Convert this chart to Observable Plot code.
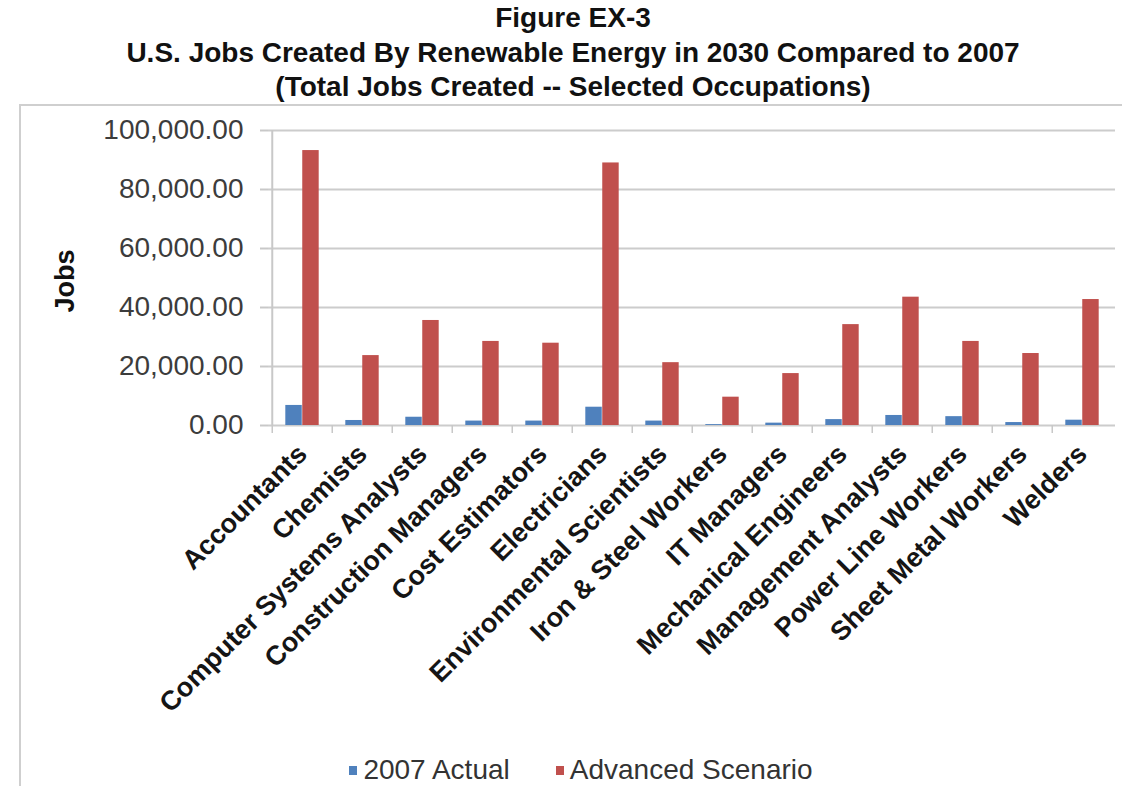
<!DOCTYPE html>
<html>
<head>
<meta charset="utf-8">
<script src="https://cdn.jsdelivr.net/npm/d3@7"></script>
<script src="https://cdn.jsdelivr.net/npm/@observablehq/plot@0.6"></script>
<style>
  html, body { margin: 0; padding: 0; background: #fff; }
  body { width: 1122px; height: 786px; position: relative; overflow: hidden; font-family: "Liberation Sans", Arial, sans-serif; }
  #title { position: absolute; top: 1px; left: 0; width: 1146px; text-align: center; font-weight: bold; font-size: 28px; line-height: 34.5px; color: #111; }
  #frame { position: absolute; left: 19px; top: 104px; right: -4px; bottom: -4px; border-top: 2px solid #cfcfcf; border-left: 2px solid #cfcfcf; }
  #chart { position: absolute; left: 0; top: 104px; }
  #ylabel { position: absolute; left: 65px; top: 281px; transform: translate(-50%, -50%) rotate(-90deg); font-weight: bold; font-size: 27px; color: #111; white-space: nowrap; }
  #legend { position: absolute; left: 0; top: 754px; width: 1122px; display: flex; justify-content: center; gap: 46px; font-size: 28px; color: #333; padding-left: 40px; box-sizing: border-box; }
  #legend span.item { display: flex; align-items: center; }
  #legend span.sw { width: 8px; height: 9px; display: inline-block; margin-right: 6px; }
</style>
</head>
<body>
<div id="title">Figure EX-3<br>U.S. Jobs Created By Renewable Energy in 2030 Compared to 2007<br>(Total Jobs Created -- Selected Occupations)</div>
<div id="frame"></div>
<div id="chart"></div>
<div id="ylabel">Jobs</div>
<div id="legend"></div>
<script>
const occupations = [
  "Accountants", "Chemists", "Computer Systems Analysts", "Construction Managers",
  "Cost Estimators", "Electricians", "Environmental Scientists", "Iron & Steel Workers",
  "IT Managers", "Mechanical Engineers", "Management Analysts", "Power Line Workers",
  "Sheet Metal Workers", "Welders"
];
const seriesNames = ["2007 Actual", "Advanced Scenario"];
const actual2007 = [6800, 1700, 2800, 1500, 1500, 6200, 1500, 300, 800, 2000, 3400, 3000, 1000, 1800];
const advanced = [93200, 23700, 35600, 28500, 27900, 89000, 21300, 9600, 17600, 34200, 43500, 28500, 24400, 42700];
const yTicks = [0, 20000, 40000, 60000, 80000, 100000];
const seriesColors = ["#4F81BD", "#C0504D"];

const rows = occupations.flatMap((o, i) => [
  {occupation: o, series: seriesNames[0], value: actual2007[i]},
  {occupation: o, series: seriesNames[1], value: advanced[i]}
]);

const W = 1122, mL = 268, mR = 7;
const step = (W - mL - mR) / occupations.length;
const barW = step * 0.28;
const inset = (step - barW) / 2;

const chart = Plot.plot({
  width: W,
  height: 640,
  marginTop: 26,
  marginBottom: 319,
  marginLeft: mL,
  marginRight: mR,
  style: {fontFamily: "'Liberation Sans', Arial, sans-serif", background: "transparent", overflow: "visible"},
  x: {domain: occupations, padding: 0, label: null},
  y: {domain: [0, 100000], label: null},
  color: {domain: seriesNames, range: seriesColors},
  marks: [
    Plot.gridY(yTicks, {stroke: "#cccccc", strokeOpacity: 1, strokeWidth: 2}),
    Plot.axisY(yTicks, {tickFormat: d3.format(",.2f"), tickSize: 8, tickPadding: 17, fontSize: 28, color: "#3c3c3c", stroke: "#c8c8c8", strokeWidth: 2, label: null}),
    Plot.ruleX(occupations.slice(0, 1), {dx: -step / 2, stroke: "#c8c8c8", strokeWidth: 2}),
    Plot.axisX({tickSize: 8, tickFormat: () => "", dx: -step / 2, stroke: "#c8c8c8", strokeWidth: 1.5, label: null}),
    Plot.barY(rows.filter(d => d.series === seriesNames[0]), {x: "occupation", y: "value", fill: "series", insetLeft: inset, insetRight: inset, dx: -barW / 2}),
    Plot.barY(rows.filter(d => d.series === seriesNames[1]), {x: "occupation", y: "value", fill: "series", insetLeft: inset, insetRight: inset, dx: barW / 2}),
    Plot.axisX({tickSize: 0, tickPadding: 24, tickRotate: -45, fontSize: 27, fontWeight: "bold", color: "#151515", label: null})
  ]
});
document.getElementById("chart").appendChild(chart);

const legend = document.getElementById("legend");
seriesNames.forEach((s, i) => {
  const item = document.createElement("span");
  item.className = "item";
  const sw = document.createElement("span");
  sw.className = "sw";
  sw.style.background = seriesColors[i];
  item.appendChild(sw);
  item.appendChild(document.createTextNode(s));
  legend.appendChild(item);
});
</script>
</body>
</html>
